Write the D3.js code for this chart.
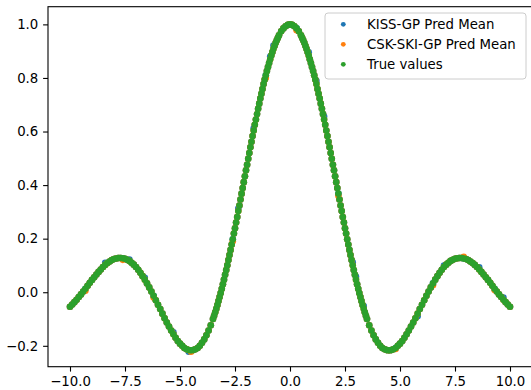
<!DOCTYPE html>
<html>
<head>
<meta charset="utf-8">
<script src="https://cdn.jsdelivr.net/npm/d3@7"></script>
<style>
    body { margin: 0; background: #fff; }
    svg { display: block; font-family: "DejaVu Sans", sans-serif; }
</style>
</head>
<body>
<svg id="chart" width="531" height="390"></svg>
<script>
// test inputs (shared by the three series)
const xValues = [
    -10.0,-9.9,-9.8,-9.7,-9.6,-9.5,-9.4,-9.3,-9.2,-9.1,
    -9.0,-8.9,-8.8,-8.7,-8.6,-8.5,-8.4,-8.3,-8.2,-8.1,
    -8.0,-7.9,-7.8,-7.7,-7.6,-7.5,-7.4,-7.3,-7.2,-7.1,
    -7.0,-6.9,-6.8,-6.7,-6.6,-6.5,-6.4,-6.3,-6.2,-6.1,
    -6.0,-5.9,-5.8,-5.7,-5.6,-5.5,-5.4,-5.3,-5.2,-5.1,
    -5.0,-4.9,-4.8,-4.7,-4.6,-4.5,-4.4,-4.3,-4.2,-4.1,
    -4.0,-3.9,-3.8,-3.7,-3.6,-3.5,
    -3.45,-3.4,-3.35,-3.3,-3.25,-3.2,-3.15,-3.1,-3.05,-3.0,
    -2.95,-2.9,-2.85,-2.8,-2.75,-2.7,-2.65,-2.6,-2.55,-2.5,
    -2.45,-2.4,-2.35,-2.3,-2.25,-2.2,-2.15,-2.1,-2.05,-2.0,
    -1.95,-1.9,-1.85,-1.8,-1.75,-1.7,-1.65,-1.6,-1.55,-1.5,
    -1.45,-1.4,-1.35,-1.3,-1.25,-1.2,-1.15,-1.1,-1.05,-1.0,
    -0.95,-0.9,-0.85,-0.8,-0.75,-0.7,-0.65,-0.6,-0.55,
    -0.5,-0.4,-0.3,-0.2,-0.1,0.0,0.1,0.2,0.3,0.4,0.5,
    0.55,0.6,0.65,0.7,0.75,0.8,0.85,0.9,0.95,
    1.0,1.05,1.1,1.15,1.2,1.25,1.3,1.35,1.4,1.45,
    1.5,1.55,1.6,1.65,1.7,1.75,1.8,1.85,1.9,1.95,
    2.0,2.05,2.1,2.15,2.2,2.25,2.3,2.35,2.4,2.45,
    2.5,2.55,2.6,2.65,2.7,2.75,2.8,2.85,2.9,2.95,
    3.0,3.05,3.1,3.15,3.2,3.25,3.3,3.35,3.4,3.45,
    3.5,3.6,3.7,3.8,3.9,
    4.0,4.1,4.2,4.3,4.4,4.5,4.6,4.7,4.8,4.9,
    5.0,5.1,5.2,5.3,5.4,5.5,5.6,5.7,5.8,5.9,
    6.0,6.1,6.2,6.3,6.4,6.5,6.6,6.7,6.8,6.9,
    7.0,7.1,7.2,7.3,7.4,7.5,7.6,7.7,7.8,7.9,
    8.0,8.1,8.2,8.3,8.4,8.5,8.6,8.7,8.8,8.9,
    9.0,9.1,9.2,9.3,9.4,9.5,9.6,9.7,9.8,9.9,
    10.0
];

const trueValues = [
    -0.054,-0.046,-0.037,-0.028,-0.018,-0.008,0.003,0.013,0.024,0.035,
    0.046,0.056,0.066,0.076,0.085,0.094,0.102,0.109,0.115,0.120,
    0.124,0.126,0.128,0.128,0.127,0.125,0.121,0.117,0.110,0.103,
    0.094,0.084,0.073,0.060,0.047,0.033,0.018,0.003,-0.013,-0.030,
    -0.047,-0.063,-0.080,-0.097,-0.113,-0.128,-0.143,-0.157,-0.170,-0.182,
    -0.192,-0.200,-0.208,-0.213,-0.216,-0.217,-0.216,-0.213,-0.208,-0.200,
    -0.189,-0.176,-0.161,-0.143,-0.123,-0.100,
    -0.088,-0.075,-0.062,-0.048,-0.033,-0.018,-0.003,0.013,0.030,0.047,
    0.065,0.083,0.101,0.120,0.139,0.158,0.178,0.198,0.219,0.239,
    0.260,0.281,0.303,0.324,0.346,0.368,0.389,0.411,0.433,0.455,
    0.476,0.498,0.520,0.541,0.562,0.583,0.604,0.625,0.645,0.665,
    0.685,0.704,0.723,0.741,0.759,0.777,0.794,0.810,0.826,0.841,
    0.856,0.870,0.884,0.897,0.909,0.920,0.931,0.941,0.950,
    0.959,0.974,0.985,0.993,0.998,1.000,0.998,0.993,0.985,0.974,0.959,
    0.950,0.941,0.931,0.920,0.909,0.897,0.884,0.870,0.856,
    0.841,0.826,0.810,0.794,0.777,0.759,0.741,0.723,0.704,0.685,
    0.665,0.645,0.625,0.604,0.583,0.562,0.541,0.520,0.498,0.476,
    0.455,0.433,0.411,0.389,0.368,0.346,0.324,0.303,0.281,0.260,
    0.239,0.219,0.198,0.178,0.158,0.139,0.120,0.101,0.083,0.065,
    0.047,0.030,0.013,-0.003,-0.018,-0.033,-0.048,-0.062,-0.075,-0.088,
    -0.100,-0.123,-0.143,-0.161,-0.176,
    -0.189,-0.200,-0.208,-0.213,-0.216,-0.217,-0.216,-0.213,-0.208,-0.200,
    -0.192,-0.182,-0.170,-0.157,-0.143,-0.128,-0.113,-0.097,-0.080,-0.063,
    -0.047,-0.030,-0.013,0.003,0.018,0.033,0.047,0.060,0.073,0.084,
    0.094,0.103,0.110,0.117,0.121,0.125,0.127,0.128,0.128,0.126,
    0.124,0.120,0.115,0.109,0.102,0.094,0.085,0.076,0.066,0.056,
    0.046,0.035,0.024,0.013,0.003,-0.008,-0.018,-0.028,-0.037,-0.046,
    -0.054
];

const kissMean = [
    -0.054,-0.046,-0.037,-0.028,-0.018,-0.008,0.003,0.013,0.024,0.035,
    0.046,0.056,0.066,0.076,0.085,0.094,0.110,0.109,0.115,0.120,
    0.124,0.126,0.128,0.128,0.127,0.125,0.121,0.122,0.110,0.103,
    0.094,0.084,0.073,0.060,0.054,0.033,0.018,0.003,-0.013,-0.030,
    -0.047,-0.063,-0.080,-0.097,-0.113,-0.128,-0.143,-0.150,-0.170,-0.182,
    -0.192,-0.200,-0.208,-0.213,-0.222,-0.217,-0.216,-0.213,-0.208,-0.200,
    -0.189,-0.176,-0.161,-0.143,-0.123,-0.100,
    -0.088,-0.075,-0.062,-0.048,-0.033,-0.018,-0.003,0.013,0.030,0.047,
    0.065,0.083,0.101,0.120,0.139,0.158,0.178,0.198,0.219,0.239,
    0.260,0.281,0.312,0.324,0.346,0.368,0.389,0.411,0.433,0.455,
    0.476,0.498,0.520,0.541,0.562,0.583,0.612,0.625,0.645,0.665,
    0.685,0.704,0.723,0.741,0.759,0.777,0.794,0.810,0.826,0.841,
    0.856,0.880,0.884,0.897,0.921,0.920,0.931,0.941,0.950,
    0.959,0.974,0.985,0.993,0.998,1.000,0.998,0.993,0.985,0.974,0.959,
    0.950,0.941,0.931,0.920,0.909,0.897,0.896,0.870,0.856,
    0.841,0.826,0.810,0.794,0.789,0.759,0.741,0.723,0.704,0.685,
    0.665,0.656,0.625,0.604,0.583,0.562,0.541,0.520,0.498,0.476,
    0.455,0.433,0.411,0.389,0.368,0.346,0.324,0.303,0.281,0.260,
    0.239,0.219,0.198,0.178,0.158,0.139,0.120,0.112,0.083,0.065,
    0.058,0.030,0.013,-0.003,-0.018,-0.033,-0.048,-0.052,-0.075,-0.088,
    -0.100,-0.123,-0.143,-0.161,-0.176,
    -0.189,-0.200,-0.208,-0.213,-0.216,-0.217,-0.216,-0.213,-0.208,-0.200,
    -0.192,-0.182,-0.170,-0.157,-0.143,-0.128,-0.113,-0.097,-0.090,-0.063,
    -0.047,-0.030,-0.013,0.003,0.018,0.033,0.047,0.060,0.073,0.084,
    0.100,0.103,0.110,0.117,0.121,0.125,0.127,0.128,0.128,0.126,
    0.124,0.120,0.115,0.109,0.102,0.094,0.093,0.076,0.066,0.056,
    0.046,0.035,0.024,0.013,0.003,-0.008,-0.018,-0.020,-0.037,-0.046,
    -0.054
];

const cskMean = [
    -0.054,-0.046,-0.037,-0.028,-0.018,-0.008,0.003,0.006,0.024,0.035,
    0.046,0.056,0.066,0.076,0.085,0.094,0.102,0.109,0.115,0.120,
    0.124,0.126,0.128,0.128,0.121,0.125,0.121,0.117,0.110,0.103,
    0.094,0.084,0.073,0.060,0.047,0.033,0.018,0.003,-0.020,-0.030,
    -0.047,-0.063,-0.080,-0.097,-0.113,-0.128,-0.143,-0.157,-0.170,-0.182,
    -0.192,-0.200,-0.208,-0.213,-0.216,-0.222,-0.216,-0.213,-0.208,-0.200,
    -0.189,-0.176,-0.161,-0.143,-0.123,-0.100,
    -0.088,-0.075,-0.062,-0.048,-0.033,-0.018,-0.003,0.013,0.030,0.047,
    0.065,0.083,0.101,0.120,0.139,0.158,0.178,0.190,0.219,0.239,
    0.260,0.281,0.303,0.324,0.346,0.368,0.389,0.411,0.433,0.455,
    0.476,0.498,0.520,0.541,0.562,0.583,0.604,0.625,0.645,0.665,
    0.685,0.704,0.723,0.741,0.759,0.777,0.794,0.800,0.826,0.841,
    0.856,0.870,0.884,0.897,0.909,0.920,0.931,0.941,0.950,
    0.959,0.974,0.985,0.993,0.998,1.000,0.998,0.993,0.978,0.974,0.959,
    0.950,0.941,0.931,0.920,0.909,0.897,0.884,0.870,0.856,
    0.841,0.826,0.810,0.794,0.777,0.759,0.741,0.723,0.704,0.685,
    0.665,0.645,0.625,0.604,0.583,0.562,0.541,0.520,0.498,0.476,
    0.455,0.433,0.411,0.389,0.360,0.346,0.324,0.303,0.281,0.260,
    0.239,0.219,0.198,0.178,0.158,0.139,0.120,0.101,0.083,0.065,
    0.047,0.030,0.013,-0.003,-0.018,-0.033,-0.048,-0.062,-0.075,-0.088,
    -0.100,-0.123,-0.143,-0.161,-0.176,
    -0.189,-0.200,-0.208,-0.213,-0.216,-0.217,-0.216,-0.213,-0.212,-0.200,
    -0.192,-0.182,-0.170,-0.157,-0.143,-0.128,-0.113,-0.097,-0.080,-0.063,
    -0.047,-0.030,-0.013,0.003,0.018,0.026,0.047,0.060,0.073,0.084,
    0.094,0.103,0.110,0.117,0.121,0.125,0.127,0.128,0.128,0.132,
    0.124,0.120,0.115,0.109,0.102,0.094,0.085,0.076,0.066,0.056,
    0.046,0.035,0.024,0.008,0.003,-0.008,-0.018,-0.028,-0.037,-0.046,
    -0.054
];

// tick positions of both axes
const xTicks = [-10, -7.5, -5, -2.5, 0, 2.5, 5, 7.5, 10];
const yTicks = [-0.2, 0, 0.2, 0.4, 0.6, 0.8, 1.0];

// series drawn bottom to top, as in the original plot
const seriesNames = ['KISS-GP Pred Mean', 'CSK-SKI-GP Pred Mean', 'True values'];
const seriesColors = ['#1f77b4', '#ff7f0e', '#2ca02c'];
const seriesValues = [kissMean, cskMean, trueValues];

const dims = {left: 48, right: 532, top: 6.7, bottom: 366.7};
const fontSize = 13.3;

const svg = d3.select('#chart');

const xScale = d3.scaleLinear()
    .domain([-11, 11])
    .range([dims.left, dims.right]);

const yScale = d3.scaleLinear()
    .domain([-0.278, 1.066])
    .range([dims.bottom, dims.top]);

const fmt = d3.format('.1f');

// points of every series
const plot = svg.append('g');
seriesValues.forEach((values, i) => {
    plot.append('g')
        .selectAll('circle')
        .data(xValues.map((x, j) => [x, values[j]]))
        .enter().append('circle')
        .attr('cx', d => xScale(d[0]))
        .attr('cy', d => yScale(d[1]))
        .attr('r', 3.3)
        .attr('fill', seriesColors[i]);
});

// bottom axis
const xAxis = d3.axisBottom(xScale)
    .tickValues(xTicks)
    .tickFormat(fmt)
    .tickSize(4.9)
    .tickPadding(4.6);
svg.append('g')
    .attr('transform', `translate(0, ${dims.bottom})`)
    .call(xAxis)
    .call(g => g.select('.domain').remove());

// left axis
const yAxis = d3.axisLeft(yScale)
    .tickValues(yTicks)
    .tickFormat(fmt)
    .tickSize(4.9)
    .tickPadding(4.8);
svg.append('g')
    .attr('transform', `translate(${dims.left}, 0)`)
    .call(yAxis)
    .call(g => g.select('.domain').remove());

svg.selectAll('.tick text')
    .attr('fill', '#000')
    .style('font-size', fontSize + 'px')
    .style('font-family', '"DejaVu Sans", sans-serif');
svg.selectAll('.tick line').attr('stroke', '#000').attr('stroke-width', 1.1);

// frame (right spine falls outside the cropped picture)
svg.append('rect')
    .attr('x', dims.left)
    .attr('y', dims.top)
    .attr('width', dims.right - dims.left)
    .attr('height', dims.bottom - dims.top)
    .attr('fill', 'none')
    .attr('stroke', '#000')
    .attr('stroke-width', 1.1);

// legend
const legend = svg.append('g').attr('transform', 'translate(325, 13)');
legend.append('rect')
    .attr('width', 201)
    .attr('height', 66)
    .attr('rx', 3)
    .attr('fill', '#fff')
    .attr('fill-opacity', 0.8)
    .attr('stroke', '#cccccc')
    .attr('stroke-width', 1);

seriesNames.forEach((name, i) => {
    const row = legend.append('g').attr('transform', `translate(0, ${11.3 + i * 20})`);
    row.append('circle')
        .attr('cx', 18.3)
        .attr('cy', 0)
        .attr('r', 2.4)
        .attr('fill', seriesColors[i]);
    row.append('text')
        .attr('x', 42)
        .attr('y', 0)
        .attr('dy', '0.35em')
        .style('font-size', fontSize + 'px')
        .attr('fill', '#000')
        .text(name);
});
</script>
</body>
</html>
